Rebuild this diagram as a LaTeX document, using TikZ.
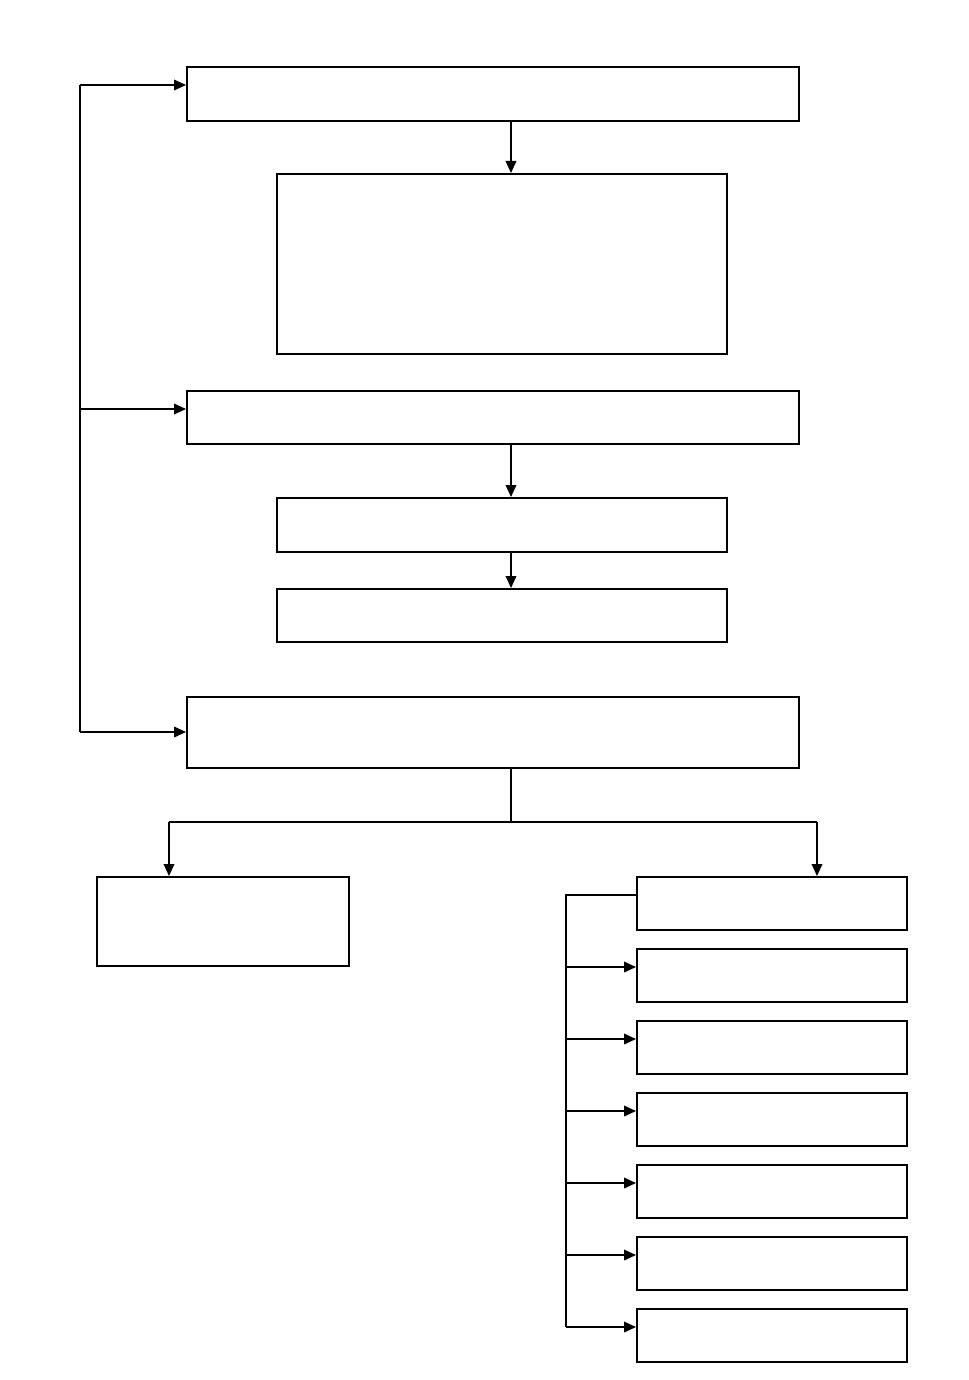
\documentclass[tikz,border=0pt]{standalone}
\usetikzlibrary{fit,arrows.meta}
\begin{document}
\begin{tikzpicture}[x=0.75pt,y=-0.75pt,
  box/.style={draw,line width=1.5pt,inner sep=0pt,fill=white},
  conn/.style={line width=1.1pt},
  arr/.style={conn,-{Triangle[length=9pt,width=8pt]}}]
\useasboundingbox (0,0) rectangle (969,1380);
\newcommand\boxat[5]{\node[box,fit={(#2,#3) (#4,#5)}] (#1) {};}
\boxat{B1}{187}{67}{799}{121}
\boxat{B2}{277}{174}{727}{354}
\boxat{B3}{187}{391}{799}{444}
\boxat{B4}{277}{498}{727}{552}
\boxat{B5}{277}{589}{727}{642}
\boxat{B6}{187}{697}{799}{768}
\boxat{L}{97}{877}{349}{966}
\boxat{R1}{637}{877}{907}{930}
\boxat{R2}{637}{949}{907}{1002}
\boxat{R3}{637}{1021}{907}{1074}
\boxat{R4}{637}{1093}{907}{1146}
\boxat{R5}{637}{1165}{907}{1218}
\boxat{R6}{637}{1237}{907}{1290}
\boxat{R7}{637}{1309}{907}{1362}
% vertical main flow
\coordinate (mx) at (511,0);
\draw[arr] (B1.south -| mx) -- (B2.north -| mx);
\draw[arr] (B3.south -| mx) -- (B4.north -| mx);
\draw[arr] (B4.south -| mx) -- (B5.north -| mx);
% split from B6
\coordinate (sp) at (511,822);
\coordinate (sl) at (169,822);
\coordinate (sr) at (817,822);
\draw[conn] (B6.south -| mx) -- (sp);
\draw[conn] (sl) -- (sr);
\draw[arr] (sl) -- (L.north -| sl);
\draw[arr] (sr) -- (R1.north -| sr);
% left feedback line
\coordinate (f1) at (80,85);
\coordinate (f2) at (80,409);
\coordinate (f3) at (80,732);
\draw[conn] (f1) -- (f3);
\draw[arr] (f1) -- (B1.west |- f1);
\draw[arr] (f2) -- (B3.west |- f2);
\draw[arr] (f3) -- (B6.west |- f3);
% right bracket
\coordinate (g0) at (566,895);
\coordinate (g7) at (566,1327);
\draw[conn] (R1.west |- g0) -- (g0) -- (g7);
\foreach \n/\y in {R2/967,R3/1039,R4/1111,R5/1183,R6/1255,R7/1327}
  \draw[arr] (566,\y) -- (\n.west |- 0,\y);
\end{tikzpicture}
\end{document}
